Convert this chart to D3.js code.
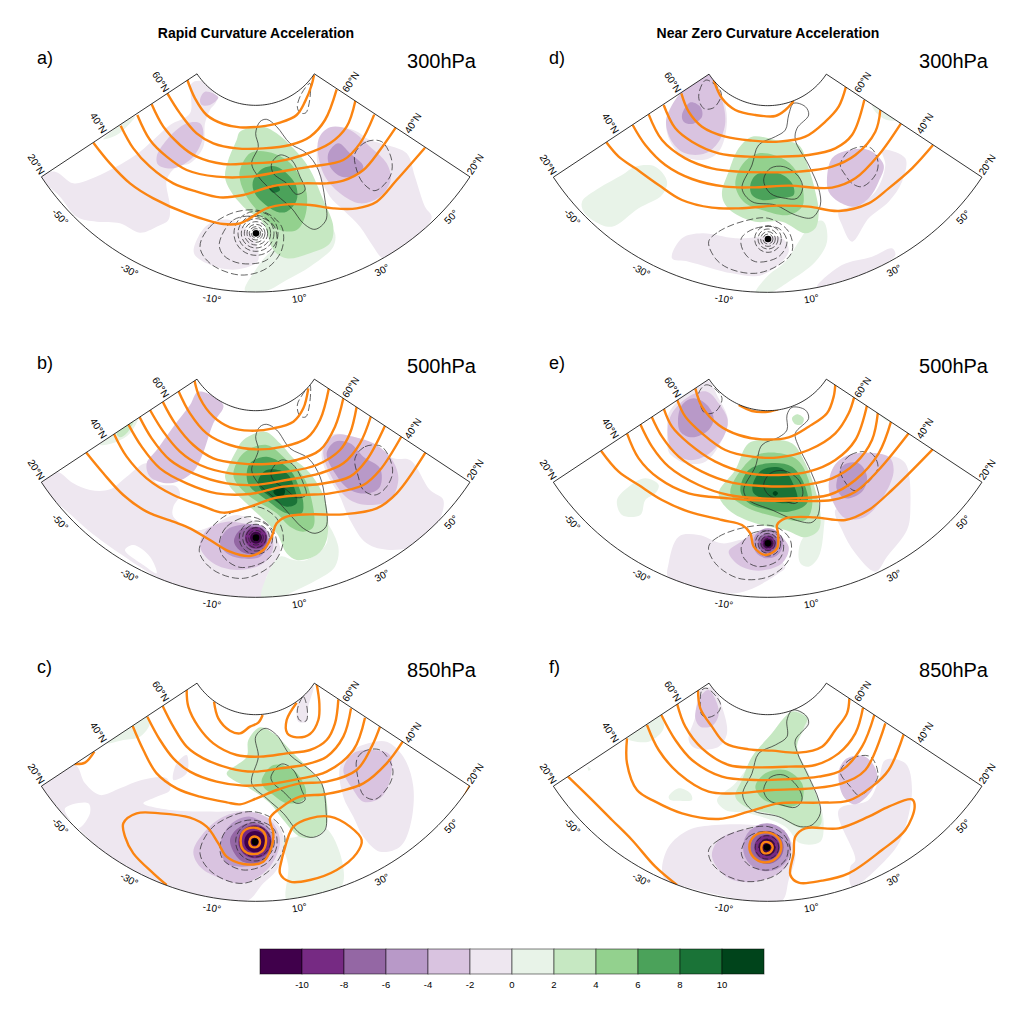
<!DOCTYPE html>
<html><head><meta charset="utf-8">
<script src="https://cdn.jsdelivr.net/npm/d3@7"></script>
<style>html,body{margin:0;background:#fff}svg{display:block}text{font-family:"Liberation Sans",Arial,sans-serif;fill:#000}</style>
</head><body><div id="c"></div>
<script>
// ---------- legend ----------
const bandBreaks = [-10,-8,-6,-4,-2,0,2,4,6,8,10];
const bandColours = ["#40004b","#762a83","#9467a4","#b899c8","#d9c3e0","#eee7f0","#e8f3e8","#c6e8c2","#93d18e","#4ba25a","#1a7337","#00441b"];
const latTicks = [20,40,60];
const lonTicks = [-50,-30,-10,10,30,50];
const panelIds = ["a","b","c","d","e","f"];
const panelLevels = ["300hPa","500hPa","850hPa","300hPa","500hPa","850hPa"];
const columnTitles = ["Rapid Curvature Acceleration","Near Zero Curvature Acceleration"];

// ---------- contour vertices on each panel's map grid: [band mid value, vertices] ----------
const shadeA = [
[-1,[[92,470],[135,455],[190,490],[240,478],[300,450],[345,425],[390,395],[430,360],[480,315],[540,280],[545,190],[580,185],[620,240],[600,270],[585,310],[580,380],[540,430],[500,440],[470,480],[480,560],[475,600],[440,620],[390,638],[330,610],[260,605],[200,590],[150,530]]],
[-1,[[1130,375],[1190,400],[1215,470],[1245,560],[1265,590],[1240,630],[1170,690],[1120,715],[1090,680],[1050,620],[1000,570],[960,530],[925,450],[925,370],[960,325],[1030,330],[1080,360]]],
[-1,[[552,700],[565,650],[600,610],[660,600],[720,640],[745,720],[700,745],[650,748],[590,730]]],
[-3,[[925,360],[960,322],[1020,330],[1080,380],[1130,430],[1142,480],[1110,530],[1050,550],[990,520],[940,460]]],
[-5,[[955,400],[985,370],[1020,400],[1060,440],[1040,465],[995,470],[960,440]]],
[-3,[[440,410],[470,360],[530,310],[570,310],[580,345],[550,410],[490,445],[445,435]]],
[-3,[[570,240],[585,215],[625,232],[600,255],[575,255]]],
[1,[[280,358],[330,315],[375,290],[350,320],[320,345]]],
[1,[[705,812],[730,760],[790,690],[860,680],[930,670],[960,620],[975,640],[970,680],[900,740],[830,780],[770,812]]],
[3,[[690,335],[760,320],[800,340],[850,385],[895,440],[940,540],[970,620],[960,670],[900,700],[830,715],[790,690],[760,610],[700,560],[660,510],[645,470],[655,420],[680,360]]],
[5,[[690,450],[720,400],[770,395],[830,420],[870,470],[890,520],[885,590],[860,630],[810,630],[760,590],[710,530],[690,480]]],
[7,[[730,480],[760,445],[800,440],[855,490],[860,540],[830,575],[800,575],[750,540],[730,510]]],
[9,[[775,500],[800,495],[810,510],[790,518]]]
];
const solidA = [
[[737,340],[750,305],[770,298],[800,320],[840,370],[890,400],[925,450],[945,540],[948,600],[915,628],[880,610],[845,565],[800,525],[745,470],[725,430],[745,380]],
[[785,430],[810,405],[845,420],[870,470],[885,510],[860,523],[830,490],[790,460]]
];
const dashA = [
[[1035,400],[1070,365],[1115,365],[1145,420],[1140,470],[1095,512],[1060,490],[1040,450]],
[[862,260],[875,220],[900,190],[888,278],[870,278]],
[[570,680],[600,620],[680,575],[760,575],[815,620],[815,690],[770,745],[690,765],[600,730]],
[[628,670],[670,600],[740,590],[790,615],[800,670],[770,720],[690,730],[640,705]]
];
const ringsA = {centre:[738,640],shaded:[],dashed:[14,20,27,35,44,54,66]};
const heightsA = [
[[532,180],[555,235],[590,285],[640,312],[690,322],[750,320],[810,308],[860,285],[885,245],[905,195],[912,165]],
[[472,220],[510,280],[560,340],[610,370],[680,385],[760,385],[840,375],[900,350],[945,300],[980,208]],
[[425,253],[460,320],[510,375],[560,410],[640,432],[720,430],[800,425],[880,405],[960,370],[1010,320],[1036,243]],
[[382,285],[420,360],[470,410],[530,450],[620,470],[720,470],[810,455],[900,440],[1000,420],[1050,370],[1093,283]],
[[332,317],[370,385],[420,440],[490,490],[560,515],[630,532],[700,525],[790,498],[880,490],[950,490],[1000,482],[1060,450],[1110,390],[1157,323]],
[[250,368],[300,430],[360,490],[430,535],[530,580],[640,612],[690,610],[770,565],[830,553],[900,555],[970,565],[1040,565],[1100,545],[1160,480],[1245,383]]
];

const shadeB = [
[-1,[[92,455],[140,425],[190,460],[240,480],[300,478],[350,440],[410,400],[440,460],[500,470],[510,495],[490,530],[490,560],[560,600],[600,590],[680,555],[770,600],[810,650],[790,710],[770,740],[755,805],[660,805],[500,770],[300,650],[200,570]]],
[0,[[345,660],[370,645],[420,680],[440,730],[400,705]]],
[-1,[[1150,385],[1200,390],[1260,480],[1300,510],[1280,590],[1240,640],[1140,660],[1070,640],[1020,570],[990,500],[950,430],[935,370],[965,315],[1030,320],[1090,345]]],
[-3,[[940,360],[975,315],[1030,320],[1100,345],[1150,395],[1165,450],[1140,510],[1080,525],[1020,510],[970,450]]],
[-5,[[950,370],[975,335],[1020,340],[1060,380],[1110,415],[1110,470],[1075,490],[1020,480],[975,430]]],
[-3,[[410,400],[440,360],[490,290],[540,225],[565,185],[640,225],[610,280],[575,380],[545,430],[480,460],[420,440]]],
[1,[[270,345],[320,305],[385,260],[360,310],[320,335]]],
[3,[[320,310],[370,275],[350,310],[330,322]]],
[1,[[755,805],[770,740],[810,680],[850,690],[890,690],[950,640],[950,580],[985,650],[975,710],[920,750],[860,780],[800,805]]],
[3,[[680,360],[700,330],[765,305],[810,340],[850,385],[900,430],[945,510],[950,630],[920,675],[860,690],[830,670],[800,610],[720,530],[660,470],[645,440],[655,410]]],
[5,[[670,430],[700,370],[770,345],[830,390],[880,440],[905,510],[910,590],[880,605],[840,590],[800,550],[720,500],[680,460]]],
[7,[[710,440],[720,400],[770,380],[840,420],[870,480],[880,520],[875,550],[830,550],[770,510],[720,470]]],
[9,[[745,450],[770,420],[830,430],[855,480],[860,520],[830,530],[780,500],[750,475]]],
[11,[[790,485],[810,470],[825,480],[820,497],[800,497]]],
[-3,[[570,650],[590,600],[650,575],[700,580],[770,600],[790,650],[760,700],[680,720],[610,700]]],
[-5,[[630,640],[650,600],[690,585],[760,590],[775,640],[750,680],[690,685],[650,670]]],
[-7,[[672,635],[690,600],[730,590],[770,615],[765,655],[730,672],[695,665]]]
];
const solidB = [
[[737,320],[750,290],[770,283],[800,300],[840,355],[895,385],[930,440],[945,510],[948,590],[915,610],[880,595],[845,560],[800,510],[745,460],[725,420],[745,360]],
[[783,425],[815,390],[850,405],[880,460],[888,495],[860,503],[830,480],[790,450]]
];
const dashB = [
[[1035,385],[1065,350],[1115,350],[1148,420],[1130,470],[1095,495],[1060,480],[1045,440]],
[[862,225],[880,190],[900,165],[888,260],[870,258]],
[[568,665],[590,610],[650,555],[740,530],[800,565],[820,630],[790,700],[700,745],[610,720]],
[[628,640],[650,590],[720,560],[780,590],[800,640],[770,690],[690,712],[640,680]]
];
const ringsB = {centre:[738,623],shaded:[[-9,33],[-11,18]],dashed:[15,22,30,40,50]};
const heightsB = [
[[553,150],[570,205],[610,260],[660,292],[720,302],[790,295],[850,275],[880,235],[895,175]],
[[505,182],[540,250],[590,310],[660,345],[740,358],[820,350],[890,325],[930,270],[957,173]],
[[458,215],[495,280],[550,345],[610,385],[690,400],[770,402],[860,390],[930,360],[975,290],[1000,205]],
[[420,240],[460,305],[510,365],[570,405],[660,430],[740,433],[830,425],[920,405],[990,360],[1020,310],[1040,230]],
[[388,260],[425,325],[480,390],[550,430],[650,460],[730,465],[830,450],[930,430],[1000,400],[1050,340],[1083,258]],
[[355,283],[395,350],[450,415],[530,460],[620,490],[720,492],[820,470],[930,462],[1020,440],[1070,390],[1125,287]],
[[312,312],[350,380],[410,445],[490,495],[570,525],[640,548],[720,530],[790,505],[880,495],[960,490],[1060,465],[1110,420],[1175,318]],
[[228,367],[280,430],[340,495],[410,545],[490,575],[540,595],[600,630],[660,665],[720,678],[760,660],[785,620],[800,580],[830,560],[900,553],[1000,553],[1100,535],[1160,490],[1248,365]]
];

const shadeC = [
[-1,[[92,437],[195,375],[225,430],[270,465],[330,445],[395,420],[470,415],[480,450],[440,470],[400,490],[480,510],[620,515],[720,515],[800,550],[825,620],[800,690],[760,730],[705,785],[470,735],[300,650],[200,560]]],
[0,[[165,505],[235,490],[240,520],[205,565],[180,540]]],
[-1,[[490,420],[500,370],[530,345],[530,400]]],
[-1,[[1130,305],[1180,350],[1210,440],[1200,560],[1170,620],[1110,635],[1060,590],[1030,530],[1000,470],[990,380],[1030,330],[1075,310]]],
[-3,[[1000,390],[1030,340],[1090,330],[1140,345],[1140,420],[1110,475],[1060,485],[1030,450]]],
[-1,[[860,210],[870,175],[910,140],[895,200],[890,245],[865,245]]],
[1,[[290,310],[360,260],[410,225],[420,250],[390,290],[340,300]]],
[1,[[832,785],[835,680],[820,600],[860,590],[940,560],[990,640],[995,738],[920,765]]],
[3,[[650,400],[710,350],[715,300],[750,262],[790,280],[850,340],[900,390],[940,440],[948,560],[915,590],[870,590],[820,540],[780,490],[710,440],[670,420]]],
[5,[[755,420],[790,375],[850,390],[888,450],[880,480],[830,490],[790,465],[760,440]]],
[-3,[[550,635],[580,580],[640,530],[720,515],[780,540],[810,600],[780,680],[700,730],[620,710],[570,680]]],
[-5,[[630,620],[660,555],[720,530],[780,570],[790,620],[750,670],[690,680],[650,670]]],
[-7,[[660,600],[690,560],[740,550],[780,590],[780,640],[740,670],[690,660]]]
];
const solidC = [
[[737,290],[765,265],[800,285],[840,345],[900,390],[935,430],[948,510],[945,570],[910,592],[870,580],[820,520],[770,475],[725,430],[745,350]],
[[783,410],[815,372],[850,390],[875,450],[885,480],[860,490],[820,455],[790,430]]
];
const dashC = [
[[1040,360],[1060,335],[1110,330],[1148,385],[1140,430],[1095,478],[1060,465],[1045,420]],
[[862,210],[880,170],[892,210],[888,243],[868,240]],
[[570,640],[600,570],[660,530],[730,515],[800,545],[825,600],[790,680],[700,730],[610,700]],
[[630,620],[650,570],[720,540],[790,565],[800,620],[770,670],[700,690],[640,660]]
];
const ringsC = {centre:[735,605],shaded:[[-9,50],[-11,32]],dashed:[46,58]};
const heightsC = [
[[193,372],[225,368],[253,335]],
[[612,185],[625,235],[660,272],[690,280],[720,260],[745,248],[758,225]],
[[860,188],[830,240],[832,280],[860,292],[900,282],[925,240],[928,190],[920,132]],
[[530,150],[535,200],[565,260],[610,310],[680,345],[750,350],[830,340],[900,330],[950,300],[975,250],[985,178]],
[[458,198],[490,260],[530,320],[580,355],[660,385],[730,395],[810,385],[880,375],[950,350],[1000,290],[1023,205]],
[[412,230],[450,300],[490,355],[540,395],[620,425],[700,437],[780,432],[860,418],[950,395],[1030,330],[1065,233]],
[[368,258],[400,330],[440,400],[500,445],[570,470],[650,487],[690,493],[740,475],[800,450],[870,430],[950,425],[1040,390],[1085,320],[1110,260]],
[[470,735],[430,700],[370,640],[345,590],[340,550],[380,520],[450,520],[540,533],[590,560],[625,610],[650,650],[700,672],[760,665],[785,620],[790,580],[780,535],[810,505],[870,470],[950,462],[1060,430],[1130,370],[1178,305]],
[[1380,437],[1360,475]]
];
const loopsC = [
[[820,640],[850,560],[900,535],[960,530],[1020,560],[1055,600],[1040,640],[980,690],[900,720],[840,725],[810,700],[815,660]],
[[692,605],[700,575],[730,563],[760,575],[768,605],[755,635],[725,642],[700,630]],
[[718,605],[725,592],[742,592],[750,605],[742,620],[725,620]]
];

const shadeD = [
[1,[[180,530],[230,490],[300,450],[340,425],[400,425],[435,470],[420,510],[350,550],[270,605],[220,590],[185,560]]],
[1,[[700,805],[740,750],[790,710],[830,650],[850,620],[880,590],[905,590],[915,650],[880,710],[800,770],[740,805]]],
[1,[[1050,240],[1075,255],[1125,285],[1095,285],[1060,260]]],
[-1,[[1080,375],[1150,400],[1140,470],[1100,530],[1040,580],[990,650],[960,600],[950,560],[1000,540],[1060,500],[1090,420]]],
[-1,[[885,785],[960,720],[1050,695],[1110,670],[1120,690],[1040,740],[950,770]]],
[-1,[[450,700],[480,640],[540,625],[640,640],[780,640],[800,680],[720,750],[630,745],[500,710]]],
[-1,[[560,145],[600,210],[615,290],[590,380],[540,405],[470,385],[432,300],[480,200]]],
[-3,[[432,290],[450,240],[480,200],[530,165],[560,150],[595,210],[610,290],[590,350],[550,385],[490,385],[450,350]]],
[-5,[[480,270],[505,232],[535,245],[540,275],[510,297],[485,290]]],
[-3,[[915,460],[930,400],[970,378],[1040,375],[1085,420],[1070,470],[1040,520],[1000,545],[950,530],[920,500]]],
[3,[[600,500],[620,440],[650,370],[690,335],[760,345],[830,360],[860,430],[880,500],[890,560],[880,610],[850,625],[780,590],[700,590],[630,560],[605,530]]],
[5,[[640,480],[660,420],[710,385],[790,405],[830,450],[845,510],[840,545],[800,570],[720,555],[665,530]]],
[7,[[685,480],[705,448],[770,445],[810,475],[815,510],[770,520],[720,525],[690,510]]]
];
const solidD = [
[[660,490],[690,420],[710,360],[760,335],[790,315],[800,270],[815,235],[850,245],[860,270],[825,310],[820,345],[860,420],[890,490],[895,540],[870,578],[820,570],[760,540],[690,530]],
[[725,465],[745,430],[785,425],[830,455],[842,490],[825,520],[790,520],[745,505]]
];
const dashD = [
[[530,215],[545,170],[555,165],[590,190],[598,210],[575,248],[545,250]],
[[955,420],[985,375],[1045,368],[1068,410],[1060,450],[1020,485],[990,475],[970,450]],
[[560,650],[590,620],[660,590],[740,580],[800,620],[810,680],[770,720],[700,745],[620,730],[580,700]],
[[658,640],[700,610],[770,610],[795,650],[770,695],[700,710],[665,680]]
];
const ringsD = {centre:[738,642],shaded:[],dashed:[15,22,30,40]};
const heightsD = [
[[575,165],[600,220],[640,255],[700,270],[760,273],[790,255],[815,228]],
[[478,205],[500,260],[540,305],[610,335],[690,347],[770,350],[850,335],[910,290],[950,245],[972,185]],
[[425,240],[460,310],[510,350],[590,385],[680,395],[770,395],[860,390],[940,370],[990,330],[1027,225]],
[[380,268],[420,345],[490,400],[570,430],[650,440],[740,442],[830,440],[930,425],[1000,390],[1060,320],[1075,255]],
[[332,300],[370,360],[430,420],[510,462],[610,485],[700,487],[800,482],[930,488],[1000,460],[1070,390],[1137,295]],
[[253,352],[290,395],[340,430],[410,480],[480,525],[570,548],[650,550],[770,542],[860,545],[950,558],[1040,535],[1100,490],[1170,430],[1233,360]]
];

const shadeE = [
[1,[[285,510],[320,470],[370,445],[410,465],[400,490],[370,510],[355,555],[300,555]]],
[1,[[1070,250],[1105,275],[1090,270]]],
[-1,[[1105,380],[1150,400],[1165,540],[1155,600],[1095,680],[1060,725],[1000,670],[960,600],[940,540],[1000,520],[1100,430]]],
[-1,[[440,700],[470,620],[530,615],[600,640],[680,630],[790,710],[770,730],[680,780],[620,790],[440,745]]],
[-1,[[440,365],[435,300],[440,250],[480,200],[520,170],[555,150],[590,205],[618,270],[600,330],[550,395],[490,400],[460,385]]],
[-3,[[437,300],[450,250],[500,200],[555,185],[590,220],[617,270],[605,320],[555,375],[500,390],[450,360]]],
[-5,[[468,270],[480,225],[515,205],[555,225],[575,265],[560,300],[510,322],[475,305]]],
[-3,[[920,470],[935,410],[980,375],[1100,380],[1115,420],[1090,490],[1030,560],[970,565],[930,510]]],
[-5,[[945,450],[965,405],[1010,400],[1035,440],[1020,485],[970,505],[945,480]]],
[1,[[835,700],[835,640],[905,560],[905,600],[890,680],[860,710]]],
[3,[[810,265],[825,253],[845,265],[840,283],[820,283]]],
[3,[[590,490],[640,420],[680,340],[740,330],[810,340],[850,400],[880,480],[895,550],[890,600],[850,622],[790,600],[700,580],[620,540]]],
[5,[[625,490],[665,410],[720,370],[820,385],[860,450],[870,530],[850,570],[760,560],[670,530]]],
[7,[[655,480],[680,420],[740,400],[810,410],[850,470],[855,520],[800,545],[720,535],[675,515]]],
[9,[[692,465],[720,420],[780,415],[815,465],[825,510],[790,520],[720,505],[695,490]]],
[11,[[752,490],[760,483],[768,490],[760,498]]],
[-3,[[620,665],[650,640],[700,610],[760,610],[800,650],[780,700],[710,722],[650,705]]]
];
const solidE = [
[[665,480],[700,410],[720,345],[770,322],[795,300],[795,255],[810,232],[850,240],[860,265],[820,310],[830,350],[860,410],[890,490],[890,550],[870,577],[820,570],[750,540],[680,510]],
[[725,465],[745,430],[785,422],[830,450],[842,495],[820,520],[780,510],[740,495]]
];
const dashE = [
[[530,190],[550,165],[570,170],[600,205],[580,245],[550,250],[535,225]],
[[955,420],[985,375],[1045,368],[1068,410],[1040,455],[1000,482],[980,470]],
[[560,650],[590,620],[680,590],[760,590],[805,630],[800,690],[740,740],[650,745],[580,700]],
[[658,650],[690,610],[770,610],[785,650],[770,690],[710,710],[670,690]]
];
const ringsE = {centre:[738,640],shaded:[[-5,45],[-7,30],[-9,22],[-11,14]],dashed:[15,22,30,38]};
const heightsE = [
[[650,225],[690,243],[730,246],[768,238]],
[[520,175],[540,230],[590,285],[650,315],[720,328],[800,322],[860,290],[915,250],[935,200],[940,160]],
[[465,208],[490,260],[540,310],[610,360],[690,380],[770,382],[860,360],[940,310],[980,250],[997,200]],
[[425,235],[450,290],[500,340],[580,395],[680,430],[770,435],[860,425],[940,390],[1000,330],[1036,222]],
[[388,258],[420,320],[470,380],[540,425],[630,458],[720,468],[830,467],[930,445],[1000,400],[1050,330],[1068,245]],
[[355,283],[390,350],[440,410],[530,465],[620,495],[720,505],[800,505],[920,495],[1000,450],[1070,370],[1107,275]],
[[315,310],[350,385],[410,445],[500,490],[620,505],[720,512],[800,512],[930,510],[1000,485],[1070,420],[1160,310]],
[[237,362],[290,425],[350,465],[420,510],[500,545],[600,570],[660,585],[685,610],[695,650],[730,675],[765,655],[768,610],[765,585],[790,565],[880,562],[970,570],[1040,540],[1110,480],[1232,358]]
];

const shadeF = [
[1,[[197,380],[207,388],[200,392]]],
[1,[[440,470],[470,445],[505,460],[510,480],[470,482],[445,480]]],
[1,[[315,295],[370,255],[415,225],[425,265],[380,305]]],
[-1,[[520,230],[535,150],[575,145],[600,200],[615,280],[590,320],[520,325],[500,300]]],
[-3,[[520,235],[535,170],[560,150],[585,190],[590,225],[570,258],[535,260]]],
[-1,[[420,690],[440,620],[500,570],[580,555],[700,555],[780,570],[820,640],[800,720],[780,782],[700,785],[470,735],[430,720]]],
[-3,[[570,650],[590,600],[660,570],[750,570],[800,610],[800,670],[770,700],[700,725],[620,715]]],
[-1,[[1090,360],[1150,370],[1170,450],[1140,590],[1100,650],[990,740],[985,680],[1000,660],[950,510],[1040,480],[1070,420]]],
[-3,[[950,395],[975,355],[1030,350],[1065,400],[1050,450],[1000,493],[965,470]]],
[1,[[585,480],[640,430],[700,350],[790,230],[820,210],[860,235],[825,320],[860,400],[895,490],[905,555],[895,605],[835,610],[790,560],[680,520],[610,510]]],
[3,[[640,470],[660,420],[690,350],[750,280],[785,235],[810,215],[855,235],[845,265],[825,320],[855,400],[890,490],[895,555],[840,565],[760,525],[680,505]]],
[5,[[700,440],[730,400],[790,390],[840,430],[840,480],[810,500],[750,490],[720,475]]]
];
const solidF = [
[[662,465],[690,400],[710,340],[760,315],[795,290],[795,240],[812,210],[850,225],[860,250],[820,300],[825,335],[860,410],[890,480],[895,520],[870,555],[835,560],[770,530],[690,510]],
[[725,450],[745,412],[785,405],[830,445],[840,480],[820,502],[780,495],[740,480]]
];
const dashF = [
[[535,200],[540,150],[555,145],[595,190],[590,215],[560,232],[540,225]],
[[955,395],[990,355],[1045,350],[1068,405],[1050,440],[1010,465],[985,440]],
[[560,630],[590,600],[660,570],[740,560],[790,590],[805,650],[770,700],[690,725],[620,710],[570,670]],
[[658,640],[680,590],[740,575],[795,610],[790,660],[740,690],[680,675]]
];
const ringsF = {centre:[735,622],shaded:[[-5,72],[-7,50],[-9,38],[-11,25]],dashed:[15,25,35]};
const heightsF = [
[[528,150],[535,205],[570,260],[610,310],[680,328],[750,332],[830,338],[900,320],[940,270],[975,220],[982,175]],
[[465,190],[490,260],[540,325],[620,375],[700,382],[800,380],[880,375],[950,340],[1000,280],[1023,203]],
[[418,225],[460,300],[510,360],[600,410],[700,420],[790,418],[890,410],[960,390],[1020,320],[1057,225]],
[[375,255],[410,330],[470,400],[560,455],[640,460],[750,450],[870,445],[960,430],[1030,390],[1090,250]],
[[315,295],[315,370],[345,450],[400,485],[480,520],[590,537],[680,515],[770,490],[890,488],[980,482],[1050,440],[1100,390],[1145,283]],
[[138,410],[200,470],[270,540],[330,600],[400,680],[465,735]]
];
const loopsF = [
[[820,590],[850,565],[950,565],[1040,530],[1100,500],[1170,478],[1178,500],[1150,570],[1080,630],[980,700],[900,722],[830,728],[805,705],[815,640]],
[[682,622],[695,590],[730,577],[765,590],[778,622],[765,652],[730,667],[695,652]],
[[718,622],[724,608],[742,608],[752,622],[742,638],[724,638]]
];

const panelData = [
 {shade:shadeA,solid:solidA,dash:dashA,rings:ringsA,heights:heightsA,loops:[]},
 {shade:shadeB,solid:solidB,dash:dashB,rings:ringsB,heights:heightsB,loops:[]},
 {shade:shadeC,solid:solidC,dash:dashC,rings:ringsC,heights:heightsC,loops:loopsC},
 {shade:shadeD,solid:solidD,dash:dashD,rings:ringsD,heights:heightsD,loops:[]},
 {shade:shadeE,solid:solidE,dash:dashE,rings:ringsE,heights:heightsE,loops:[]},
 {shade:shadeF,solid:solidF,dash:dashF,rings:ringsF,heights:heightsF,loops:loopsF}
];

// ---------- layout ----------
const layout = [[10,20,162],[10,330,148],[10,640,130],[522,25,148],[522,330,148],[522,640,130]];
const svg = d3.select("#c").append("svg").attr("width",1024).attr("height",1024);
const fillOf = d3.scaleThreshold().domain(bandBreaks).range(bandColours);
const band = v => v===0 ? "#fff" : fillOf(v);
const rOfLat = d3.scaleLinear().domain([20,70]).range([771,211]);
const angOfLon = d3.scaleLinear().domain([-60,60]).range([-56.5,56.5].map(d=>d*Math.PI/180));
const ORANGE="#fb8411";

panelData.forEach((p,i)=>{
  const [ox,oy,cornerY]=layout[i];
  const sx=d3.scaleLinear().domain([0,1440]).range([ox,ox+480]);
  const sy=d3.scaleLinear().domain([0,870]).range([oy,oy+290]);
  const sr=d3.scaleLinear().domain([0,1440]).range([0,480]);
  const poleX=737, poleY=cornerY-117;
  const polar=(lon,r)=>{const a=angOfLon(lon);return [poleX+r*Math.sin(a),poleY+r*Math.cos(a)];};
  const g=svg.append("g");
  const lonsF=d3.range(-60,60.01,2);
  const sector=[...lonsF.map(l=>polar(l,rOfLat(20))),...lonsF.slice().reverse().map(l=>polar(l,rOfLat(70)))];
  const poly=d3.line().x(d=>sx(d[0])).y(d=>sy(d[1])).curve(d3.curveLinearClosed);
  const closed=d3.line().x(d=>sx(d[0])).y(d=>sy(d[1])).curve(d3.curveCatmullRomClosed.alpha(.5));
  const open=d3.line().x(d=>sx(d[0])).y(d=>sy(d[1])).curve(d3.curveCatmullRom.alpha(.5));
  const cid="clip"+i;
  svg.append("clipPath").attr("id",cid).append("path").attr("d",poly(sector));
  const m=g.append("g").attr("clip-path",`url(#${cid})`);
  m.selectAll(".s").data(p.shade).join("path").attr("d",d=>closed(d[1])).attr("fill",d=>band(d[0]));
  const [cx,cy]=p.rings.centre;
  m.selectAll(".v").data(p.rings.shaded).join("circle").attr("cx",sx(cx)).attr("cy",sy(cy)).attr("r",d=>sr(d[1])).attr("fill",d=>band(d[0]));
  m.selectAll(".k").data(p.solid).join("path").attr("d",closed).attr("fill","none").attr("stroke","#222").attr("stroke-width",.7);
  m.selectAll(".d").data(p.dash).join("path").attr("d",closed).attr("fill","none").attr("stroke","#222").attr("stroke-width",.7).attr("stroke-dasharray","7 3");
  m.selectAll(".r").data(p.rings.dashed).join("circle").attr("cx",sx(cx)).attr("cy",sy(cy)).attr("r",d=>sr(d)).attr("fill","none").attr("stroke","#222").attr("stroke-width",.7).attr("stroke-dasharray","6 2.5");
  m.selectAll(".h").data(p.heights).join("path").attr("d",open).attr("fill","none").attr("stroke",ORANGE).attr("stroke-width",2.4);
  m.selectAll(".l").data(p.loops).join("path").attr("d",closed).attr("fill","none").attr("stroke",ORANGE).attr("stroke-width",2.4);
  m.append("circle").attr("cx",sx(cx)).attr("cy",sy(cy)).attr("r",sr(10)).attr("fill","#000");
  g.append("path").attr("d",poly(sector)).attr("fill","none").attr("stroke","#000").attr("stroke-width",.8);

  // graticule labels
  lonTicks.forEach(l=>{
    const [x,y]=polar(l,rOfLat(20)+30);
    g.append("text").attr("transform",`translate(${sx(x)},${sy(y)}) rotate(${-angOfLon(l)*180/Math.PI})`)
      .attr("text-anchor","middle").attr("dy","0.35em").attr("font-size",10).text(l+"°");
  });
  [-1,1].forEach(side=>latTicks.forEach(lat=>{
    const a=angOfLon(side*60),r=rOfLat(lat)-8;
    const px=poleX+r*Math.sin(a)+40*side*Math.cos(a), py=poleY+r*Math.cos(a)-40*side*Math.sin(a);
    g.append("text").attr("transform",`translate(${sx(px)},${sy(py)}) rotate(${-side*57})`)
      .attr("text-anchor","middle").attr("dy","0.35em").attr("font-size",10).text(lat+"°N");
  }));
  const col=i<3?0:1, row=i%3;
  g.append("text").attr("x",37+col*512).attr("y",64+row*304.5).attr("font-size",18).text(panelIds[i]+")");
  g.append("text").attr("x",476+col*512).attr("y",68+row*304.5).attr("font-size",20).attr("text-anchor","end").text(panelLevels[i]);
});

columnTitles.forEach((t,i)=>svg.append("text").attr("x",256+i*512).attr("y",38).attr("text-anchor","middle")
  .attr("font-size",14).attr("font-weight","bold").text(t));

// colour bar
const lb=d3.scaleLinear().domain([-12,12]).range([260,764]);
const edges=[-12,...bandBreaks,12];
const bar=svg.append("g");
bar.selectAll("rect").data(bandColours).join("rect")
  .attr("x",(d,i)=>lb(edges[i])).attr("y",949).attr("width",(d,i)=>lb(edges[i+1])-lb(edges[i])).attr("height",25)
  .attr("fill",d=>d).attr("stroke","#000").attr("stroke-opacity",.5).attr("stroke-width",1);
bar.selectAll("text").data(bandBreaks).join("text").attr("x",d=>lb(d)).attr("y",988).attr("text-anchor","middle").attr("font-size",9.5).text(d=>d);
</script></body></html>
